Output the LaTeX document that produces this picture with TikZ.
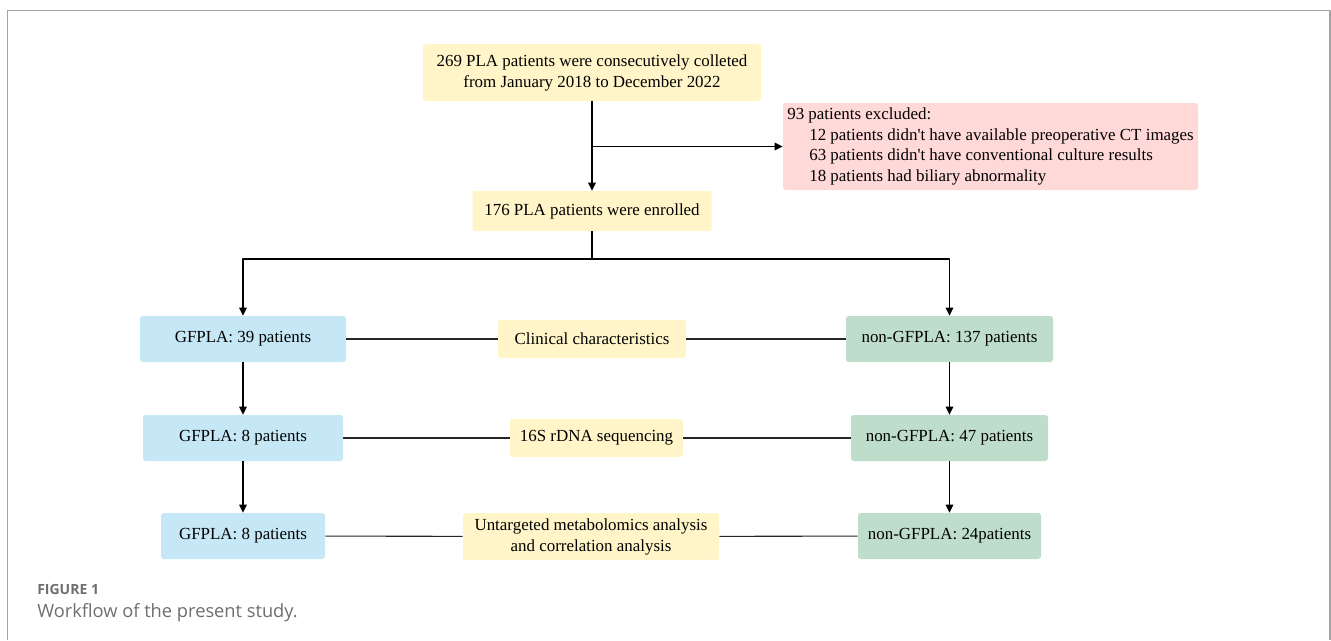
\documentclass[tikz,border=0pt]{standalone}
\usepackage{fontspec}
\setmainfont{Liberation Serif}[Ligatures=TeXOff]
\newfontfamily\capfont{Open Sans}
\usetikzlibrary{arrows.meta}

\definecolor{boxyellow}{HTML}{FFF5C8}
\definecolor{boxpink}{HTML}{FFD8D8}
\definecolor{boxblue}{HTML}{C6E7F6}
\definecolor{boxgreen}{HTML}{BFDDCB}
\definecolor{framegray}{HTML}{A3A3A3}
\definecolor{capgray}{HTML}{6E6E6E}

\begin{document}
\begin{tikzpicture}[line join=round,>={Triangle[length=6pt,width=5.5pt]},x=0.75pt,y=-0.75pt,
		box/.style={rounded corners=2pt, inner sep=0pt, align=center, font=\fontsize{12.7}{15.75}\selectfont},
		ybox/.style={box, fill=boxyellow},
		bbox/.style={box, fill=boxblue, minimum height=34.5pt},
		gbox/.style={box, fill=boxgreen, minimum height=34.5pt},
		arr/.style={->, line width=1.4pt},
		link/.style={line width=0.8pt, black!85}]
		\useasboundingbox (0,0) rectangle (1331,640);

		% Rahmen
		\draw[framegray, line width=1.1pt] (7.5,640) -- (7.5,10.5) -- (1330,10.5) -- (1330,640);

		% Aufnahme
		\node[ybox, minimum width=253.5pt, minimum height=42.75pt] (start) at (592,72.5)
			{269 PLA patients were consecutively colleted\\from January 2018 to December 2022};
		\node[box, fill=boxpink, minimum width=311.25pt, minimum height=65.25pt,
			align=left, font=\fontsize{12.7}{15.5}\selectfont] (excl) at (990.5,146.5)
			{93 patients excluded:\\
			\hspace*{16.5pt}12 patients didn't have available preoperative CT images\\
			\hspace*{16.5pt}63 patients didn't have conventional culture results\\
			\hspace*{16.5pt}18 patients had biliary abnormality};
		\node[ybox, minimum width=179.25pt, minimum height=30pt] (enrol) at (592,211)
			{176 PLA patients were enrolled};

		% Gruppen
		\node[bbox, minimum width=154.5pt] (gf1) at (243,339) {GFPLA: 39 patients};
		\node[ybox, minimum width=141pt, minimum height=28.5pt] (clin) at (592,339) {Clinical characteristics};
		\node[gbox, minimum width=155.25pt] (ngf1) at (949.5,339) {non-GFPLA: 137 patients};

		\node[bbox, minimum width=150pt] (gf2) at (243,438) {GFPLA: 8 patients};
		\node[ybox, minimum width=129.75pt, minimum height=28.5pt] (seq) at (596.5,438) {16S rDNA sequencing};
		\node[gbox, minimum width=147.75pt] (ngf2) at (949.5,438) {non-GFPLA: 47 patients};

		\node[bbox, minimum width=123pt] (gf3) at (243,536) {GFPLA: 8 patients};
		\node[ybox, minimum width=192pt, minimum height=35.25pt] (meta) at (591,536.5)
			{Untargeted metabolomics analysis\\and correlation analysis};
		\node[gbox, minimum width=137.25pt] (ngf3) at (949.5,536) {non-GFPLA: 24patients};

		% Pfeile
		\coordinate (split) at (start.south |- excl.west);
		\coordinate (fork) at (592,259);
		\draw[arr] (start.south) -- (enrol.north);
		\draw[arr] (split) -- (excl.west);
		\draw[arr] (enrol.south) -- (fork) -| (gf1.north);
		\draw[arr] (fork) -| (ngf1.north);
		\draw[arr] (gf1) -- (gf2);
		\draw[arr] (gf2) -- (gf3);
		\draw[arr] (ngf1) -- (ngf2);
		\draw[arr] (ngf2) -- (ngf3);

		% Verbindungen
		\draw[link] (gf1) -- (clin) -- (ngf1);
		\draw[link] (gf2) -- (seq) -- (ngf2);
		\draw[link] (gf3) -- (meta) -- (ngf3);

		% Unterschrift
		\node[anchor=base west, inner sep=0pt, text=capgray, font=\capfont\fontsize{10.5}{12}\selectfont\bfseries]
			(figlabel) at (37,594) {FIGURE 1};
		\node[anchor=base west, inner sep=0pt, text=capgray, font=\capfont\fontsize{13.7}{15}\selectfont]
			(figcaption) at (37,617) {Workflow of the present study.};
	\end{tikzpicture}
\end{document}
